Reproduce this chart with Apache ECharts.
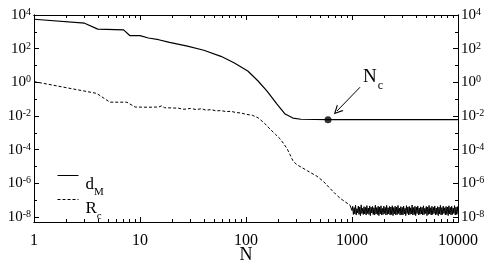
<!DOCTYPE html>
<html><head><meta charset="utf-8">
<script src="https://cdn.jsdelivr.net/npm/echarts@6/dist/echarts.min.js"></script>
<style>html,body{margin:0;padding:0;background:#fff}#c{width:491px;height:268px}</style>
</head><body><div id="c"></div>
<script>
// ---- data ----
const dmN = [1, 3, 4, 7, 8, 10, 12, 15, 19, 28, 40, 58, 77, 104, 130, 158, 196, 234, 277, 330, 594, 10000];
const dmV = [5600, 3250, 1450, 1300, 600, 600, 430, 340, 235, 140, 80, 35, 14.5, 4.7, 1.2, 0.3, 0.051, 0.013, 0.0075, 0.0064, 0.006, 0.006];

const rcN = [1, 3.9, 5.2, 7.5, 9, 12, 15, 16, 17, 20, 23, 26, 30, 34, 38, 42, 47, 52, 58, 65, 72, 80, 90, 100, 115, 130, 150, 168, 190, 209, 225, 244, 260, 277, 300, 323, 380, 468, 540, 618, 700, 771, 860, 958];
const rcV = [1.1, 0.22, 0.066, 0.066, 0.034, 0.033, 0.034, 0.040, 0.031, 0.030, 0.029, 0.025, 0.028, 0.024, 0.027, 0.022, 0.024, 0.020, 0.021, 0.018, 0.019, 0.016, 0.015, 0.0125, 0.011, 0.0078, 0.0036, 0.0017, 0.0008, 0.00045, 0.00024, 0.000115, 0.00005, 0.000022, 0.000013, 0.00001, 0.0000055, 0.0000026, 0.00000125, 0.00000051, 0.00000023, 0.00000013, 0.00000008, 0.00000005];

const rcNoiseN = [1000,1015,1031,1047,1063,1080,1096,1113,1131,1148,
  1166,1184,1202,1221,1240,1259,1279,1298,1318,1339,
  1360,1381,1402,1424,1446,1468,1491,1514,1538,1561,
  1585,1610,1635,1660,1686,1712,1738,1765,1793,1820,
  1848,1877,1906,1936,1966,1996,2027,2058,2090,2123,
  2155,2189,2223,2257,2292,2328,2364,2400,2438,2475,
  2514,2553,2592,2632,2673,2714,2756,2799,2843,2887,
  2931,2977,3023,3069,3117,3165,3214,3264,3315,3366,
  3418,3471,3525,3579,3635,3691,3748,3806,3865,3925,
  3986,4047,4110,4174,4238,4304,4371,4438,4507,4577,
  4648,4720,4793,4867,4942,5019,5097,5176,5256,5337,
  5420,5504,5589,5676,5764,5853,5943,6035,6129,6224,
  6320,6418,6517,6618,6721,6825,6930,7038,7147,7257,
  7370,7484,7600,7718,7837,7958,8082,8207,8334,8463,
  8594,8727,8862,8999,9139,9280,9424,9570,9718,9868,
  10000];
const rcNoiseV = [2.4e-8,4.3e-8,1.4e-8,3.6e-8,1.5e-8,4.9e-8,1.3e-8,3.1e-8,1.7e-8,4.4e-8,
  1.4e-8,3.9e-8,1.2e-8,5.2e-8,1.6e-8,3.3e-8,1.4e-8,4.1e-8,1.5e-8,3.7e-8,
  1.3e-8,4.7e-8,1.6e-8,3.4e-8,1.4e-8,4.5e-8,1.2e-8,3.8e-8,1.7e-8,4.2e-8,
  1.4e-8,3.5e-8,1.3e-8,5.0e-8,1.5e-8,3.6e-8,1.4e-8,4.3e-8,1.2e-8,3.9e-8,
  1.5e-8,4.6e-8,1.3e-8,3.2e-8,1.4e-8,4.4e-8,1.6e-8,3.7e-8,1.3e-8,4.9e-8,
  1.4e-8,3.5e-8,1.5e-8,4.2e-8,1.3e-8,3.9e-8,1.4e-8,4.6e-8,1.2e-8,3.6e-8,
  1.5e-8,4.3e-8,1.3e-8,3.8e-8,1.4e-8,4.8e-8,1.6e-8,3.4e-8,1.3e-8,4.1e-8,
  1.4e-8,3.7e-8,1.3e-8,4.4e-8,1.5e-8,3.3e-8,1.2e-8,4.7e-8,1.6e-8,3.9e-8,
  1.3e-8,4.2e-8,1.4e-8,3.5e-8,1.5e-8,5.1e-8,1.3e-8,3.6e-8,1.4e-8,4.3e-8,
  1.2e-8,3.8e-8,1.6e-8,4.5e-8,1.3e-8,3.4e-8,1.4e-8,4.0e-8,1.5e-8,3.7e-8,
  1.3e-8,4.6e-8,1.4e-8,3.3e-8,1.6e-8,4.2e-8,1.2e-8,3.9e-8,1.4e-8,4.8e-8,
  1.5e-8,3.5e-8,1.3e-8,4.3e-8,1.4e-8,3.7e-8,1.6e-8,4.5e-8,1.3e-8,3.4e-8,
  1.4e-8,4.1e-8,1.2e-8,3.8e-8,1.5e-8,4.9e-8,1.3e-8,3.6e-8,1.4e-8,4.4e-8,
  1.6e-8,3.5e-8,1.3e-8,4.2e-8,1.4e-8,3.9e-8,1.2e-8,4.6e-8,1.5e-8,3.7e-8,
  1.3e-8,4.3e-8,1.4e-8,3.4e-8,1.6e-8,4.7e-8,1.3e-8,3.8e-8,1.4e-8,4.1e-8,
  1.5e-8];

const ncPoint = [594, 0.006];

const xTickLabels = [1, 10, 100, 1000, 10000];
const xMinorTicks = [2,3,4,5,6,7,8,9,20,30,40,50,60,70,80,90,200,300,400,500,600,700,800,900,2000,3000,4000,5000,6000,7000,8000,9000];
const yTickLabels = [1e-8, 1e-6, 1e-4, 1e-2, 1, 1e2, 1e4];
const yMinorTicks = [1e-7, 1e-5, 1e-3, 1e-1, 1e1, 1e3];
const xRange = [1, 10000];
const yRange = [5e-9, 1e4];

// ---- build ----
const lg = Math.log10;
const pairs = (ns, vs) => ns.map((n, i) => [lg(n), lg(vs[i])]);
const FONT = 'Liberation Serif';
const BLACK = '#000';

const noiseData = [[lg(rcN[rcN.length-1]), lg(rcV[rcV.length-1])]].concat(pairs(rcNoiseN, rcNoiseV));

function xAxisCfg(pos, major, labels) {
  return {
    type: 'value', position: pos, min: lg(xRange[0]), max: lg(xRange[1]),
    splitLine: {show: false},
    axisLine: {show: true, onZero: false, lineStyle: {color: BLACK, width: 1}},
    axisTick: {show: true, inside: true, length: major ? 5 : 3, lineStyle: {color: BLACK, width: 1},
      customValues: (major ? xTickLabels : xMinorTicks).map(lg)},
    axisLabel: labels ? {show: true, customValues: xTickLabels.map(lg), margin: 11,
      fontFamily: FONT, fontSize: 16, color: BLACK,
      formatter: v => String(Math.round(Math.pow(10, v)))} : {show: false},
    name: labels ? 'N' : '', nameLocation: 'middle', nameGap: 24, nameMoveOverlap: false,
    nameTextStyle: {fontFamily: FONT, fontSize: 18, color: BLACK}
  };
}
const yRich = {
  b: {fontFamily: FONT, fontSize: 15, lineHeight: 15, verticalAlign: 'bottom', color: BLACK},
  s: {fontFamily: FONT, fontSize: 10, lineHeight: 10, verticalAlign: 'top', padding: [0,0,12,0], color: BLACK}
};
function yAxisCfg(pos, major, labels) {
  return {
    type: 'value', position: pos, min: lg(yRange[0]), max: lg(yRange[1]),
    splitLine: {show: false},
    axisLine: {show: true, onZero: false, lineStyle: {color: BLACK, width: 1}},
    axisTick: {show: true, inside: true, length: major ? 5 : 3, lineStyle: {color: BLACK, width: 1},
      customValues: (major ? yTickLabels : yMinorTicks).map(lg)},
    axisLabel: labels ? {show: true, customValues: yTickLabels.map(lg), margin: 3,
      formatter: v => '{b|10}{s|' + Math.round(v) + '}', rich: yRich} : {show: false}
  };
}

const option = {
  animation: false,
  backgroundColor: '#fff',
  grid: {left: 34, right: 33, top: 15, bottom: 46, containLabel: false, outerBoundsMode: 'none'},
  xAxis: [xAxisCfg('bottom', true, true), xAxisCfg('bottom', false, false),
          xAxisCfg('top', true, false), xAxisCfg('top', false, false)],
  yAxis: [yAxisCfg('left', true, true), yAxisCfg('left', false, false),
          yAxisCfg('right', true, true), yAxisCfg('right', false, false)],
  legend: {
    data: ['d_M', 'R_c'], orient: 'vertical', left: 57, top: 167, padding: 0,
    itemWidth: 21, itemHeight: 14, itemGap: -7,
    itemStyle: {opacity: 0, borderWidth: 0},
    lineStyle: {width: 1},
    formatter: name => name === 'd_M' ? '{m|d}{s|M}' : '{m|R}{s|c}',
    textStyle: {rich: {
      m: {fontFamily: FONT, fontSize: 17, lineHeight: 17, verticalAlign: 'top', padding: [9,0,0,2], color: BLACK},
      s: {fontFamily: FONT, fontSize: 11, lineHeight: 11, verticalAlign: 'top', padding: [20,0,0,0], color: BLACK}
    }}
  },
  series: [
    {name: 'd_M', type: 'line', data: pairs(dmN, dmV), symbol: 'none', showSymbol: false,
     lineStyle: {color: BLACK, width: 1.2}, itemStyle: {color: BLACK}},
    {name: 'R_c', type: 'line', data: pairs(rcN, rcV), symbol: 'none', showSymbol: false,
     lineStyle: {color: BLACK, width: 1, type: [3, 2]}, itemStyle: {color: BLACK}},
    {name: 'R_c', type: 'line', data: noiseData, symbol: 'none', showSymbol: false,
     lineStyle: {color: BLACK, width: 1}, itemStyle: {color: BLACK}},
    {name: 'Nc', type: 'scatter', data: [[lg(ncPoint[0]), lg(ncPoint[1])]], symbolSize: 7,
     itemStyle: {color: BLACK}, z: 5,
     markLine: {silent: true, animation: false,
       symbol: ['none', 'path://M0,10 L5,0 L10,10 L8.6,10 L5,2.8 L1.4,10 Z'], symbolSize: [9, 9],
       lineStyle: {color: BLACK, width: 1, type: 'solid'}, label: {show: false},
       data: [[{coord: [lg(1190), lg(0.51)]}, {coord: [lg(722), lg(0.0197)]}]]},
     markPoint: {silent: true, animation: false, symbol: 'circle', symbolSize: 0,
       label: {show: true, position: 'inside', formatter: '{n|N}{c|c}', rich: {
         n: {fontFamily: FONT, fontSize: 19, lineHeight: 19, verticalAlign: 'top', color: BLACK},
         c: {fontFamily: FONT, fontSize: 12, lineHeight: 12, verticalAlign: 'top', padding: [12,0,0,1], color: BLACK}
       }},
       data: [{coord: [lg(1578), lg(2.1)]}]}
    }
  ]
};
const chart = echarts.init(document.getElementById('c'), null, {renderer: 'canvas'});
chart.setOption(option);
</script>
</body></html>
